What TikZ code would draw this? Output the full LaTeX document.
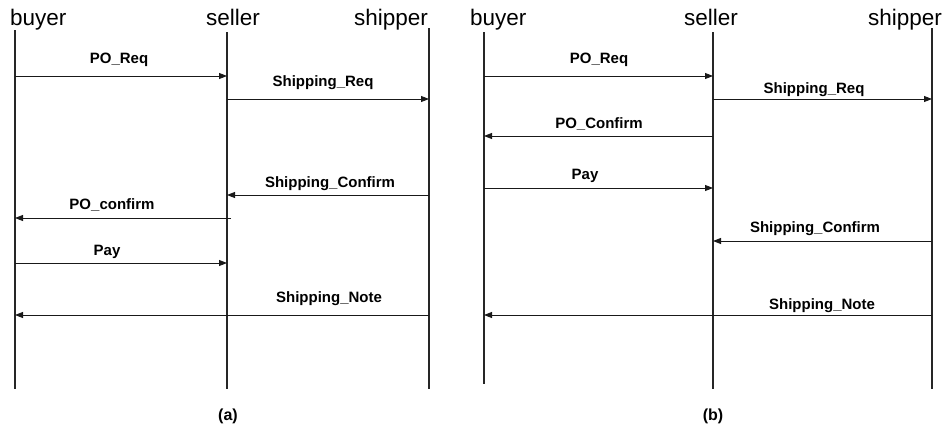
\documentclass[tikz,border=0pt]{standalone}
\usepackage{fontspec}
\setmainfont{Liberation Sans}
\usetikzlibrary{arrows.meta}

\begin{document}
\begin{tikzpicture}[x=1pt,y=-1pt,
  lifeline/.style={draw=black!85,line width=1.1pt},
  actor/.style={inner sep=0pt,font=\fontsize{22.5}{26}\selectfont},
  msg/.style={draw=black!90,line width=0.9pt,-{Triangle[length=8pt,width=6pt]}},
  msglabel/.style={inner sep=0pt,anchor=base,font=\bfseries\fontsize{15}{18}\selectfont},
  caption/.style={inner sep=0pt,anchor=base,font=\bfseries\fontsize{16}{18}\selectfont}]
\useasboundingbox (0,0) rectangle (944,431);

% ---------------- panel (a) ----------------
\coordinate (aBt) at (15,30);  \coordinate (aBb) at (15,389);
\coordinate (aSt) at (227,32); \coordinate (aSb) at (227,389);
\coordinate (aHt) at (429,28); \coordinate (aHb) at (429,389);
\draw[lifeline] (aBt) -- (aBb);
\draw[lifeline] (aSt) -- (aSb);
\draw[lifeline] (aHt) -- (aHb);

\node[actor,anchor=base west] (aBuyer) at (10,25) {buyer};
\node[actor,anchor=base] (aSeller) at (233,25) {seller};
\node[actor,anchor=base east] (aShipper) at (428,25) {shipper};

\draw[msg] (aBt |- 0,76)  -- (aSt |- 0,76);
\node[msglabel] (aL1) at (119,63) {PO\_Req};
\draw[msg] (aSt |- 0,99)  -- (aHt |- 0,99);
\node[msglabel] (aL2) at (323,86) {Shipping\_Req};
\draw[msg] (aHt |- 0,195) -- (aSt |- 0,195);
\node[msglabel] (aL3) at (330,187) {Shipping\_Confirm};
\coordinate (aPCs) at (231,218);
\draw[msg] (aPCs) -- (aBt |- aPCs);
\node[msglabel] (aL4) at (112,209) {PO\_confirm};
\draw[msg] (aBt |- 0,263) -- (aSt |- 0,263);
\node[msglabel] (aL5) at (107,255) {Pay};
\draw[msg] (aHt |- 0,315) -- (aBt |- 0,315);
\node[msglabel] (aL6) at (329,302) {Shipping\_Note};

\node[caption] (capA) at (228,420) {(a)};

% ---------------- panel (b) ----------------
\coordinate (bBt) at (484,32); \coordinate (bBb) at (484,384);
\coordinate (bSt) at (713,32); \coordinate (bSb) at (713,389);
\coordinate (bHt) at (932,28); \coordinate (bHb) at (932,389);
\draw[lifeline] (bBt) -- (bBb);
\draw[lifeline] (bSt) -- (bSb);
\draw[lifeline] (bHt) -- (bHb);

\node[actor,anchor=base west] (bBuyer) at (470,25) {buyer};
\node[actor,anchor=base] (bSeller) at (711,25) {seller};
\node[actor,anchor=base east] (bShipper) at (942,25) {shipper};

\draw[msg] (bBt |- 0,76)  -- (bSt |- 0,76);
\node[msglabel] (bL1) at (599,63) {PO\_Req};
\draw[msg] (bSt |- 0,99)  -- (bHt |- 0,99);
\node[msglabel] (bL2) at (814,93) {Shipping\_Req};
\draw[msg] (bSt |- 0,136) -- (bBt |- 0,136);
\node[msglabel] (bL3) at (599,128) {PO\_Confirm};
\draw[msg] (bBt |- 0,188) -- (bSt |- 0,188);
\node[msglabel] (bL4) at (585,179) {Pay};
\draw[msg] (bHt |- 0,241) -- (bSt |- 0,241);
\node[msglabel] (bL5) at (815,232) {Shipping\_Confirm};
\draw[msg] (bHt |- 0,315) -- (bBt |- 0,315);
\node[msglabel] (bL6) at (822,309) {Shipping\_Note};

\node[caption] (capB) at (713,420) {(b)};
\end{tikzpicture}
\end{document}
